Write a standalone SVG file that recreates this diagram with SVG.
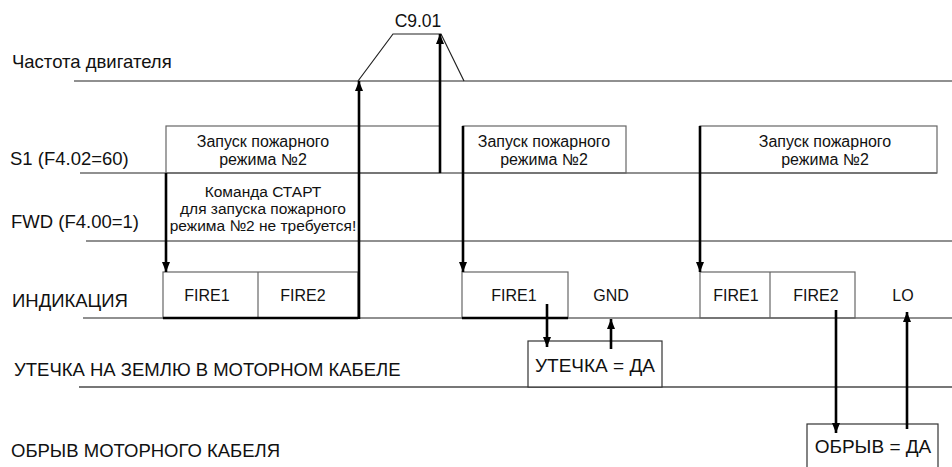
<svg xmlns="http://www.w3.org/2000/svg" width="952" height="467" viewBox="0 0 952 467">
<defs>
<marker id="ah" markerUnits="userSpaceOnUse" markerWidth="10" markerHeight="10" viewBox="0 0 10 10" refX="10" refY="5" orient="auto">
<path d="M0,1 L10,5 L0,9 Z" fill="#000"/>
</marker>
<style>
.lbl{font-family:"Liberation Sans",Arial,sans-serif;font-size:18.5px;fill:#111}
.t{font-family:"Liberation Sans",Arial,sans-serif;font-size:16px;fill:#111;text-anchor:middle}
.n{font-family:"Liberation Sans",Arial,sans-serif;font-size:15.5px;fill:#111;text-anchor:middle}
.big{font-family:"Liberation Sans",Arial,sans-serif;font-size:19px;fill:#111;text-anchor:middle}
.base{stroke:#222;stroke-width:1.2;fill:none}
.box{stroke:#666;stroke-width:1.2;fill:none}
.bx{stroke:#333;stroke-width:1.2;fill:#fff}
.arr{stroke:#000;stroke-width:2.6;fill:none;marker-end:url(#ah)}
.thick{stroke:#000;stroke-width:2.6;fill:none}
</style>
</defs>
<rect width="952" height="467" fill="#fff"/>

<g id="labels">
<text class="lbl" x="12" y="68">Частота двигателя</text>
<text class="lbl" x="10" y="165">S1 (F4.02=60)</text>
<text class="lbl" x="11" y="228">FWD (F4.00=1)</text>
<text class="lbl" x="12" y="307">ИНДИКАЦИЯ</text>
<text class="lbl" x="14" y="376">УТЕЧКА НА ЗЕМЛЮ В МОТОРНОМ КАБЕЛЕ</text>
<text class="lbl" x="11" y="457">ОБРЫВ МОТОРНОГО КАБЕЛЯ</text>
</g>

<g id="baselines">
<line class="base" x1="74" y1="81" x2="952" y2="81"/>
<line class="base" x1="80" y1="173" x2="937" y2="173"/>
<line class="base" x1="86" y1="241" x2="952" y2="241"/>
<line class="base" x1="83" y1="318" x2="952" y2="318"/>
<line x1="79" y1="387" x2="952" y2="387" stroke="#777" stroke-width="2"/>
</g>

<g id="freq-ramp">
<polyline class="base" points="358,81 393,34 441,34 464,81"/>
<text class="big" x="418" y="27" style="font-size:17.5px">C9.01</text>
</g>

<g id="s1-box1">
<rect class="box" x="166" y="126" width="274" height="47"/>
<text class="t" x="263" y="147">Запуск пожарного</text>
<text class="t" x="263" y="165">режима №2</text>
</g>
<g id="s1-box2">
<rect class="box" x="463" y="126" width="163" height="47"/>
<text class="t" x="544" y="147">Запуск пожарного</text>
<text class="t" x="544" y="165">режима №2</text>
</g>
<g id="s1-box3">
<rect class="box" x="700" y="126" width="237" height="47"/>
<text class="t" x="825" y="147">Запуск пожарного</text>
<text class="t" x="825" y="165">режима №2</text>
</g>

<g id="fwd-note">
<text class="n" x="263" y="197">Команда СТАРТ</text>
<text class="n" x="263" y="214">для запуска пожарного</text>
<text class="n" x="263" y="231">режима №2 не требуется!</text>
</g>

<g id="ind-box1">
<rect class="box" x="163" y="272" width="195" height="46"/>
<line class="box" x1="258" y1="272" x2="258" y2="318"/>
<line class="thick" x1="163" y1="318" x2="358" y2="318"/>
<text class="t" x="207" y="301">FIRE1</text>
<text class="t" x="303" y="301">FIRE2</text>
</g>
<g id="ind-box2">
<rect class="box" x="462" y="272" width="106" height="46"/>
<line class="thick" x1="462" y1="318" x2="568" y2="318"/>
<text class="t" x="514" y="301">FIRE1</text>
<text class="t" x="611" y="301">GND</text>
</g>
<g id="ind-box3">
<rect class="box" x="700" y="272" width="155" height="46"/>
<line class="box" x1="770" y1="272" x2="770" y2="318"/>
<text class="t" x="736" y="301">FIRE1</text>
<text class="t" x="816" y="301">FIRE2</text>
<text class="t" x="903" y="301">LO</text>
</g>

<g id="leak-box">
<rect class="bx" x="528" y="341" width="134" height="46"/>
<text class="big" x="595" y="372">УТЕЧКА = ДА</text>
</g>
<g id="break-box">
<rect class="bx" x="807" y="424" width="131" height="50"/>
<text class="big" x="873" y="453">ОБРЫВ = ДА</text>
</g>

<g id="connectors">
<line class="arr" x1="166" y1="173" x2="166" y2="272"/>
<line class="arr" x1="359" y1="319" x2="359" y2="81"/>
<line class="arr" x1="440" y1="173" x2="440" y2="34"/>
<line class="arr" x1="463" y1="126" x2="463" y2="272"/>
<line class="arr" x1="700" y1="126" x2="700" y2="272"/>
<line class="arr" x1="547" y1="304" x2="547" y2="347"/>
<line class="arr" x1="611" y1="349" x2="611" y2="319"/>
<line class="arr" x1="836" y1="310" x2="836" y2="433"/>
<line class="arr" x1="907" y1="429" x2="907" y2="312"/>
</g>
</svg>
